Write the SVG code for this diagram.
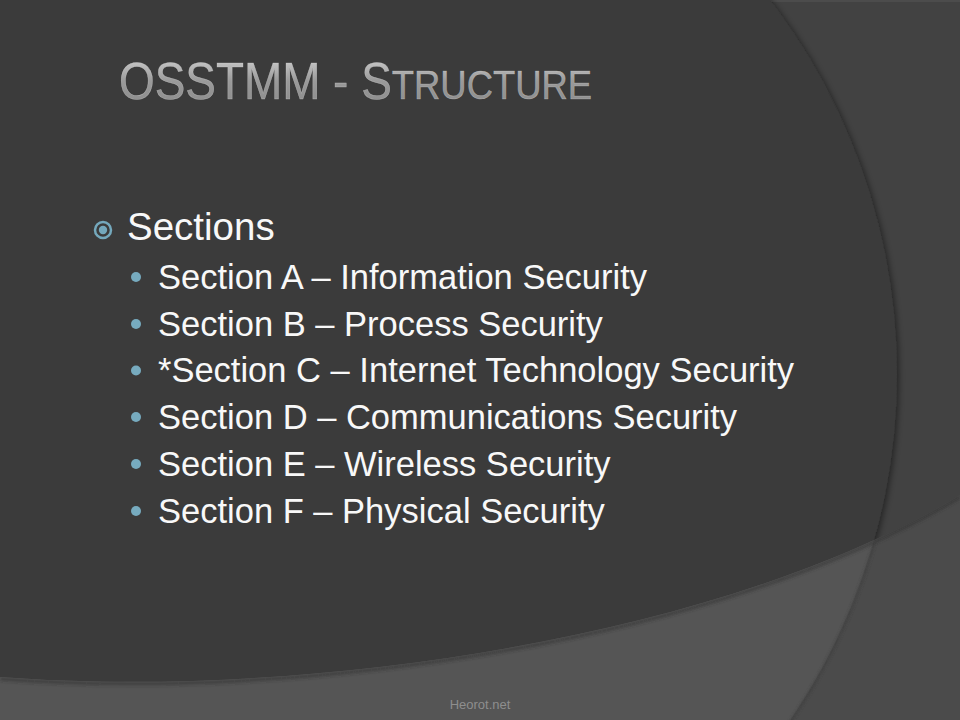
<svg xmlns="http://www.w3.org/2000/svg" width="960" height="720" viewBox="0 0 960 720">
  <defs>
    <style>
      .body { font-family: "Liberation Sans", Arial, sans-serif; fill: #f8f8f8; }
      .sub { font-size: 34.5px; }
      .dot { fill: #77abbf; }
      .footer { font-family: "Liberation Sans", Arial, sans-serif; font-size: 13px; fill: #8e8e8e; }
      .title { font-family: "Liberation Sans", Arial, sans-serif; fill: url(#silver); stroke: #d9d9d9; stroke-width: 0.5; stroke-opacity: 0.55; }
    </style>
    <linearGradient id="silver" x1="0" y1="0" x2="0" y2="1">
      <stop offset="0" stop-color="#d6d6d6"/>
      <stop offset="0.5" stop-color="#9a9a9a"/>
      <stop offset="1" stop-color="#8a8a8a"/>
    </linearGradient>
    <filter id="shadow" x="-10%" y="-10%" width="120%" height="120%">
      <feDropShadow dx="2" dy="2" stdDeviation="3" flood-color="#000" flood-opacity="0.45"/>
    </filter>
    <filter id="blur" x="-5%" y="-5%" width="110%" height="110%">
      <feGaussianBlur stdDeviation="1.5"/>
    </filter>
    <clipPath id="circleClip">
      <circle cx="282" cy="374" r="615"/>
    </clipPath>
    <clipPath id="bandClip">
      <path d="M0,677 C300,700 720,640 960,495 L960,720 L0,720 Z"/>
    </clipPath>
  </defs>

  <g id="background">
    <rect x="0" y="0" width="960" height="720" fill="#424242"/>
    <rect x="770" y="0" width="190" height="2" fill="#4c4c4c"/>
    <circle cx="282" cy="374" r="615" fill="#3a3a3a" filter="url(#shadow)"/>
    <path d="M0,677 C300,700 720,640 960,495 L960,720 L0,720 Z" fill="#4b4b4b"/>
    <path d="M0,677 C300,700 720,640 960,495 L960,720 L0,720 Z" fill="#555555" clip-path="url(#circleClip)"/>
    <g clip-path="url(#bandClip)">
      <path d="M0,679 C300,702 720,642 960,497" fill="none" stroke="#2e2e2e" stroke-width="4" stroke-opacity="0.45" filter="url(#blur)"/>
      <circle cx="283" cy="374" r="615" fill="none" stroke="#3c3c3c" stroke-width="2" stroke-opacity="0.8" filter="url(#blur)"/>
    </g>
  </g>

  <g id="title">
    <text class="title" transform="translate(119,99) scale(0.9,1)" x="0" y="0"><tspan font-size="51">OSSTMM - S</tspan><tspan font-size="40.5">TRUCTURE</tspan></text>
  </g>

  <g id="sections">
    <circle cx="103" cy="230" r="8" fill="none" stroke="#74a8bc" stroke-width="2.5"/>
    <circle cx="103" cy="230" r="4.2" fill="#74a8bc"/>
    <text class="body" x="127" y="240" font-size="38.5">Sections</text>
  </g>

  <g id="item-a">
    <circle class="dot" cx="136" cy="277" r="5"/>
    <text class="body sub" x="158" y="288.5">Section A – Information Security</text>
  </g>
  <g id="item-b">
    <circle class="dot" cx="136" cy="324" r="5"/>
    <text class="body sub" x="158" y="335.5">Section B – Process Security</text>
  </g>
  <g id="item-c">
    <circle class="dot" cx="136" cy="370.5" r="5"/>
    <text class="body sub" x="158" y="382">*Section C – Internet Technology Security</text>
  </g>
  <g id="item-d">
    <circle class="dot" cx="136" cy="417" r="5"/>
    <text class="body sub" x="158" y="428.5">Section D – Communications Security</text>
  </g>
  <g id="item-e">
    <circle class="dot" cx="136" cy="464" r="5"/>
    <text class="body sub" x="158" y="475.5">Section E – Wireless Security</text>
  </g>
  <g id="item-f">
    <circle class="dot" cx="136" cy="511" r="5"/>
    <text class="body sub" x="158" y="522.5">Section F – Physical Security</text>
  </g>

  <g id="footer">
    <text class="footer" x="480" y="709" text-anchor="middle">Heorot.net</text>
  </g>
</svg>
